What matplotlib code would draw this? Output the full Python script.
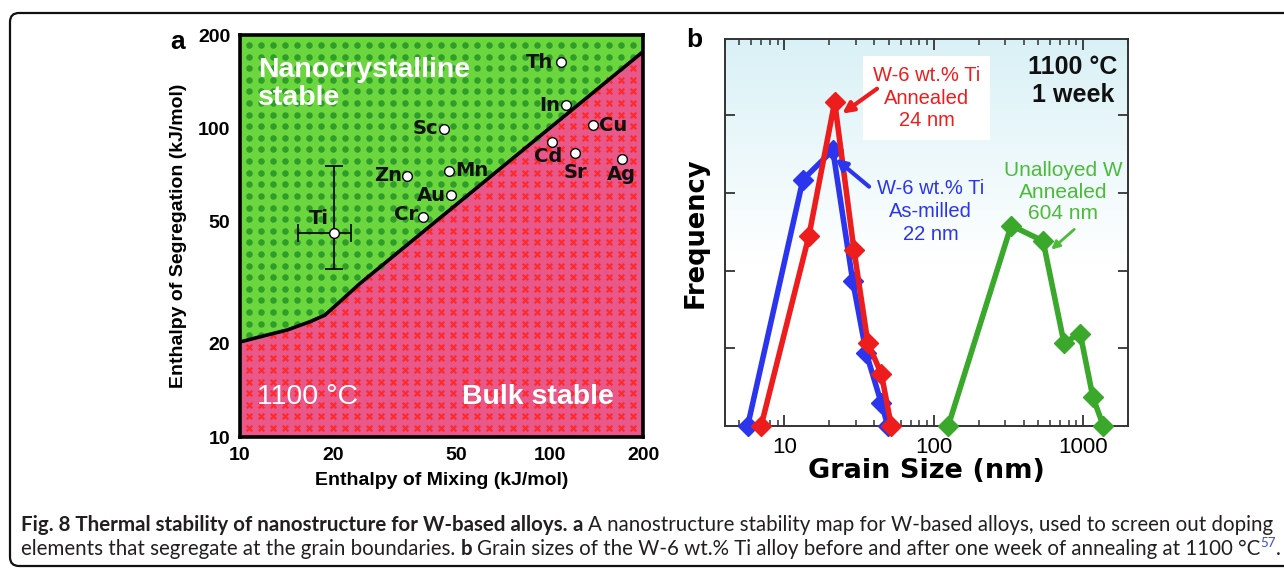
import numpy as np
import matplotlib
matplotlib.use('Agg')
import matplotlib.pyplot as plt
from matplotlib.patches import FancyBboxPatch
from matplotlib.colors import LinearSegmentedColormap
import matplotlib.ticker as mticker

W, H, DPI = 1284, 574, 100
FONT = ['Liberation Sans', 'DejaVu Sans']
WIDE = ['DejaVu Sans']
plt.rcParams['font.family'] = FONT

# ---------------- Panel a data ----------------
boundary_x = [10, 11.6, 14.2, 16.8, 18.8, 21.0, 24.4, 200]
boundary_y = [20.3, 21.1, 22.2, 23.6, 24.8, 27.4, 31.4, 176.6]
elements = ['Th', 'In', 'Sc', 'Cu', 'Cd', 'Sr', 'Ag', 'Mn', 'Zn', 'Au', 'Cr']
elem_x = [108.7, 113, 45.4, 138, 101.4, 120.6, 170.6, 47.4, 34.5, 48.0, 38.9]
elem_y = [163, 118.7, 99.3, 102, 90.3, 82.8, 79.2, 72.6, 70.1, 60.7, 51.6]
ti_x, ti_y = 20.1, 45.6
ti_x_lo, ti_x_hi = 15.4, 22.8
ti_y_lo, ti_y_hi = 35.1, 75.3
a_ticks = [10, 20, 50, 100, 200]

# ---------------- Panel b data ----------------
milled_x = [5.67, 13.3, 21.1, 28.7, 35.3, 44.6, 49.3]
milled_y = [0, 3.17, 3.55, 1.86, 0.94, 0.29, 0]
annealed_x = [6.98, 14.6, 21.7, 29.2, 36.2, 44.6, 52.0]
annealed_y = [0, 2.45, 4.17, 2.27, 1.07, 0.67, 0]
unalloyed_x = [125, 330, 540, 745, 957, 1164, 1368]
unalloyed_y = [0, 2.58, 2.38, 1.07, 1.19, 0.37, 0]
b_ticks = [10, 100, 1000]

fig = plt.figure(figsize=(W / DPI, H / DPI), dpi=DPI)
fig.patch.set_facecolor('white')

def fx(px):
    return px / W

def fy(py):
    return 1 - py / H

# outer rounded frame
frame = FancyBboxPatch((10 / DPI, (H - 566) / DPI), (1300 - 10) / DPI, (566 - 13) / DPI,
                       boxstyle='round,pad=0,rounding_size=0.09',
                       transform=fig.dpi_scale_trans, fill=False, lw=1.6,
                       edgecolor='#111111', clip_on=False)
fig.patches.append(frame)

# ================= Panel a =================
axa = fig.add_axes([fx(240), fy(437), (643 - 240) / W, (437 - 35) / H])
axa.set_xscale('log')
axa.set_yscale('log')
axa.set_xlim(10, 200)
axa.set_ylim(10, 200)

green = '#6bd63e'
pink = '#e9588a'
axa.fill_between(boundary_x, boundary_y, 200, color=green, lw=0, zorder=0)
axa.fill_between(boundary_x, 10, boundary_y, color=pink, lw=0, zorder=0)

# texture grid
ncol, nrow = 33, 34
gx = np.linspace(0.0223, 0.975, ncol)
gy = np.linspace(0.0224, 0.975, nrow)
GX, GY = np.meshgrid(gx, gy)
GX, GY = GX.ravel(), GY.ravel()
lx = 1 + GX * np.log10(20)
ly = 1 + GY * np.log10(20)
lb = np.interp(lx, np.log10(boundary_x), np.log10(boundary_y))
above = ly > lb
axa.scatter(GX[above], GY[above], s=22, color='#2f9d2a', lw=0,
            transform=axa.transAxes, zorder=1)
axa.scatter(GX[~above], GY[~above], s=16, marker='x', color='#ff2a2a', lw=1.6,
            transform=axa.transAxes, zorder=1)

axa.plot(boundary_x, boundary_y, color='black', lw=2.6, zorder=3, solid_capstyle='butt')

axa.errorbar([ti_x], [ti_y], xerr=[[ti_x - ti_x_lo], [ti_x_hi - ti_x]],
             yerr=[[ti_y - ti_y_lo], [ti_y_hi - ti_y]], fmt='none', ecolor='black',
             elinewidth=1.2, capsize=6.5, capthick=1.2, zorder=4)
axa.plot([ti_x], [ti_y], 'o', mfc='white', mec='black', ms=7, mew=1.0, zorder=5)
axa.plot(elem_x, elem_y, 'o', mfc='white', mec='black', ms=7, mew=1.0, zorder=5, ls='none')

label_pos = {
    'Th': (-8, 0, 'right', 'center'), 'In': (-6, 0, 'right', 'center'),
    'Sc': (-5, 0, 'right', 'center'), 'Cu': (6, 0, 'left', 'center'),
    'Cd': (-3, -15, 'center', 'center'), 'Sr': (0, -19, 'center', 'center'),
    'Ag': (0, -15, 'center', 'center'), 'Mn': (6, 0, 'left', 'center'),
    'Zn': (-4, 0, 'right', 'center'), 'Au': (-5, 0, 'right', 'center'),
    'Cr': (-5, 2, 'right', 'center'),
}
for name, x, y in zip(elements, elem_x, elem_y):
    dx, dy, ha, va = label_pos[name]
    axa.annotate(name, (x, y), xytext=(dx, dy), textcoords='offset pixels',
                 ha=ha, va=va, fontsize=14, fontweight='bold', family=WIDE,
                 color='#111111', zorder=6)
axa.annotate('Ti', (ti_x, ti_y), xytext=(-15, 15), textcoords='offset pixels',
             ha='center', va='center', fontsize=14, fontweight='bold', family=WIDE,
             color='#111111', zorder=6)

axa.text(0.045, 0.945, 'Nanocrystalline\nstable', transform=axa.transAxes, color='white',
         fontsize=20.5, fontweight='bold', ha='left', va='top', linespacing=1.08, zorder=6)
axa.text(0.043, 0.10, '1100 °C', transform=axa.transAxes, color='white',
         fontsize=20.5, ha='left', va='center', zorder=6)
axa.text(0.927, 0.10, 'Bulk stable', transform=axa.transAxes, color='white',
         fontsize=20.5, fontweight='bold', ha='right', va='center', zorder=6)

for s in axa.spines.values():
    s.set_linewidth(2.6)
    s.set_zorder(7)
axa.xaxis.set_major_locator(mticker.FixedLocator(a_ticks))
axa.yaxis.set_major_locator(mticker.FixedLocator(a_ticks))
axa.xaxis.set_minor_locator(mticker.NullLocator())
axa.yaxis.set_minor_locator(mticker.NullLocator())
axa.set_xticklabels([str(t) for t in a_ticks])
axa.set_yticklabels([str(t) for t in a_ticks])
axa.tick_params(length=0, labelsize=14, pad=7)
for lab in axa.get_xticklabels() + axa.get_yticklabels():
    lab.set_fontweight('bold')
axa.set_xlabel('Enthalpy of Mixing (kJ/mol)', fontsize=14, fontweight='bold', labelpad=6)
axa.set_ylabel('Enthalpy of Segregation (kJ/mol)', fontsize=14, fontweight='bold', labelpad=8)
fig.text(fx(178), fy(42), 'a', fontsize=19, fontweight='bold', ha='center', va='center')

# ================= Panel b =================
axb = fig.add_axes([fx(725), fy(426), (1128 - 725) / W, (426 - 39) / H])
axb.set_xscale('log')

grad_cmap = LinearSegmentedColormap.from_list('bg', [(0, '#ffffff'), (0.42, '#ffffff'), (1, '#d9f1f6')])
grad = np.linspace(0, 1, 256).reshape(-1, 1)
axb.imshow(grad, extent=[0, 1, 0, 1], transform=axb.transAxes, aspect='auto',
           cmap=grad_cmap, origin='lower', zorder=0)
axb.set_xlim(4, 2000)
axb.set_ylim(0, 4.98)

red, blue, grn = '#ee1d1d', '#2b35ee', '#3aa82a'
kw = dict(lw=4, marker='D', ms=10, clip_on=False, zorder=4)
axb.plot(milled_x, milled_y, color=blue, **kw)
axb.plot(annealed_x, annealed_y, color=red, **kw)
axb.plot(unalloyed_x, unalloyed_y, color=grn, **kw)

axb.text(89.5, 4.22, 'W-6 wt.% Ti\nAnnealed\n24 nm', color=red, fontsize=14.5, ha='center',
         va='center', linespacing=1.25, zorder=5,
         bbox=dict(facecolor='white', edgecolor='none', pad=7))
axb.text(95, 2.76, 'W-6 wt.% Ti\nAs-milled\n22 nm', color=blue, fontsize=14.5, ha='center',
         va='center', linespacing=1.25, zorder=5)
axb.text(736, 3.01, 'Unalloyed W\nAnnealed\n604 nm', color='#4cbb3a', fontsize=15, ha='center',
         va='center', linespacing=1.15, zorder=5)
axb.text(857, 4.44, '1100 °C\n1 week', color='#111111', fontsize=18, fontweight='bold',
         ha='center', va='center', linespacing=1.25, zorder=5)

arrow_kw = dict(arrowstyle='-|>', lw=3, mutation_scale=16, shrinkA=0, shrinkB=0)
axb.annotate('', xy=(24.4, 4.02), xytext=(41.7, 4.34),
             arrowprops=dict(color=red, **arrow_kw), zorder=6)
axb.annotate('', xy=(22.0, 3.44), xytext=(36.9, 3.08),
             arrowprops=dict(color=blue, **arrow_kw), zorder=6)
axb.annotate('', xy=(612, 2.27), xytext=(873, 2.53),
             arrowprops=dict(color='#4cbb3a', lw=2, arrowstyle='-|>', mutation_scale=12,
                             shrinkA=0, shrinkB=0), zorder=6)

for s in axb.spines.values():
    s.set_linewidth(1.4)
    s.set_color('#333333')
    s.set_zorder(3)
axb.xaxis.set_major_locator(mticker.FixedLocator(b_ticks))
axb.xaxis.set_minor_locator(mticker.LogLocator(base=10, subs=np.arange(2, 10), numticks=20))
axb.xaxis.set_minor_formatter(mticker.NullFormatter())
axb.set_xticklabels([str(t) for t in b_ticks])
axb.yaxis.set_major_locator(mticker.FixedLocator([1, 2, 3, 4]))
axb.tick_params(axis='x', which='major', direction='in', length=8, width=1.3,
                top=True, bottom=True, labelsize=16, pad=8, colors='#333333', labelcolor='black')
axb.tick_params(axis='x', which='minor', direction='in', length=4, width=1.1,
                top=True, bottom=True, colors='#333333')
axb.tick_params(axis='y', which='major', direction='in', length=7, width=1.3,
                left=True, right=True, labelleft=False, colors='#333333')
axb.set_xlabel('Grain Size (nm)', fontsize=19.5, fontweight='bold', family=WIDE, labelpad=0)
axb.set_ylabel('Frequency', fontsize=18.5, fontweight='bold', family=WIDE, labelpad=12)
fig.text(fx(694), fy(40), 'b', fontsize=19, fontweight='bold', ha='center', va='center')

# ================= Caption =================
cap_color = '#231f20'
line1 = [('Fig. 8 Thermal stability of nanostructure for W-based alloys.', 'bold', 0),
         ('a', 'bold', 1),
         ('A nanostructure stability map for W-based alloys, used to screen out doping', 'normal', 1)]
line2 = [('elements that segregate at the grain boundaries.', 'normal', 0),
         ('b', 'bold', 1),
         ('Grain sizes of the W-6 wt.% Ti alloy before and after one week of annealing at 1100 °C', 'normal', 1),
         ('57', 'sup', 0),
         ('.', 'normal', 0)]
CAP_FONT = ['Lato', 'DejaVu Sans']

renderer = fig.canvas.get_renderer()

def draw_line(pieces, x0, yc, fs):
    objs = []
    x = x0
    sp = fig.text(0, 0, 'x x', fontsize=fs, family=CAP_FONT)
    sp2 = fig.text(0, 0, 'xx', fontsize=fs, family=CAP_FONT)
    space = sp.get_window_extent(renderer).width - sp2.get_window_extent(renderer).width
    sp.remove(); sp2.remove()
    for txt, style, gap in pieces:
        x += gap * space
        if style == 'sup':
            t = fig.text(fx(x), fy(yc - 6), txt, fontsize=fs * 0.65, family=CAP_FONT,
                         color='#3b4bd8', ha='left', va='center')
        else:
            t = fig.text(fx(x), fy(yc), txt, fontsize=fs, family=CAP_FONT,
                         fontweight=('bold' if style == 'bold' else 'normal'),
                         color=cap_color, ha='left', va='center')
        objs.append(t)
        x += t.get_window_extent(renderer).width
    return objs, x - x0

fs = 12.0
objs, wd = draw_line(line1, 21, 526, fs)
for o in objs:
    o.remove()
fs = fs * (1247 / wd)
draw_line(line1, 21, 525, fs)
draw_line(line2, 21, 549, fs)

fig.savefig('out.png', dpi=DPI)
